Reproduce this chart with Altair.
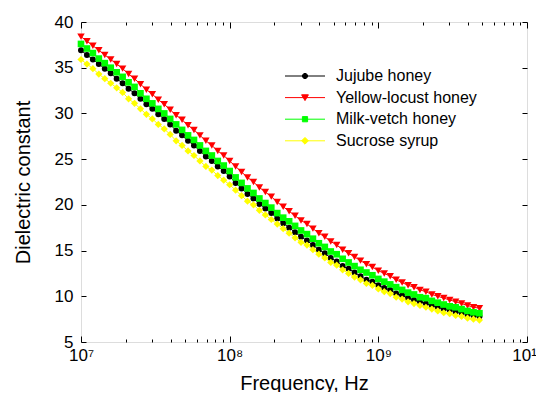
import altair as alt
import pandas as pd

# ---------------- data ----------------
log_freq = [7.00, 7.04, 7.08, 7.12, 7.16, 7.20, 7.24, 7.28, 7.32, 7.36,
            7.40, 7.44, 7.48, 7.52, 7.56, 7.60, 7.64, 7.68, 7.72, 7.76,
            7.80, 7.84, 7.88, 7.92, 7.96, 8.00, 8.04, 8.08, 8.12, 8.16,
            8.20, 8.24, 8.28, 8.32, 8.36, 8.40, 8.44, 8.48, 8.52, 8.56,
            8.60, 8.64, 8.68, 8.72, 8.76, 8.80, 8.84, 8.88, 8.92, 8.96,
            9.00, 9.04, 9.08, 9.12, 9.16, 9.20, 9.24, 9.28, 9.32, 9.36,
            9.40, 9.44, 9.48, 9.52, 9.56, 9.60, 9.64, 9.68]

jujube = [36.9, 36.4, 35.9, 35.4, 34.9, 34.4, 33.8, 33.3, 32.7, 32.2,
          31.6, 31.0, 30.5, 29.9, 29.4, 28.8, 28.1, 27.6, 27.0, 26.5,
          25.9, 25.3, 24.8, 24.2, 23.7, 23.1, 22.4, 21.8, 21.2, 20.7,
          20.1, 19.6, 19.1, 18.5, 18.0, 17.5, 17.0, 16.5, 16.1, 15.6,
          15.1, 14.7, 14.2, 13.8, 13.3, 13.0, 12.6, 12.2, 11.8, 11.6,
          11.2, 10.9, 10.7, 10.3, 10.1, 9.8, 9.6, 9.4, 9.2, 9.0,
          8.8, 8.6, 8.5, 8.3, 8.2, 8.0, 7.9, 7.8]

yellow_locust = [38.4, 37.9, 37.4, 36.9, 36.4, 35.9, 35.4, 34.9, 34.3, 33.8,
                 33.2, 32.6, 32.1, 31.5, 31.0, 30.4, 29.8, 29.3, 28.7, 28.2,
                 27.6, 27.0, 26.5, 25.9, 25.4, 24.8, 24.2, 23.6, 23.0, 22.5,
                 21.9, 21.4, 20.9, 20.3, 19.8, 19.3, 18.8, 18.3, 17.9, 17.4,
                 16.9, 16.5, 16.0, 15.6, 15.1, 14.7, 14.3, 13.9, 13.5, 13.2,
                 12.8, 12.5, 12.2, 11.8, 11.5, 11.2, 11.0, 10.7, 10.5, 10.2,
                 10.0, 9.8, 9.6, 9.4, 9.2, 9.0, 8.8, 8.7]

milk_vetch = [37.6, 37.1, 36.6, 36.0, 35.5, 35.0, 34.5, 34.0, 33.4, 32.9,
              32.2, 31.6, 31.1, 30.5, 30.0, 29.4, 28.8, 28.2, 27.6, 27.1,
              26.5, 25.9, 25.4, 24.8, 24.3, 23.7, 23.0, 22.4, 21.8, 21.3,
              20.7, 20.2, 19.7, 19.1, 18.6, 18.2, 17.7, 17.2, 16.8, 16.3,
              15.8, 15.4, 14.9, 14.6, 14.1, 13.7, 13.3, 12.9, 12.6, 12.3,
              11.9, 11.6, 11.3, 11.0, 10.7, 10.4, 10.2, 9.9, 9.8, 9.5,
              9.3, 9.1, 8.9, 8.8, 8.6, 8.4, 8.25, 8.15]

sucrose = [35.9, 35.4, 34.9, 34.3, 33.8, 33.3, 32.8, 32.3, 31.6, 31.1,
           30.5, 29.9, 29.4, 28.8, 28.3, 27.7, 27.0, 26.5, 25.9, 25.4,
           24.8, 24.2, 23.8, 23.2, 22.7, 22.2, 21.6, 21.0, 20.4, 20.0,
           19.4, 18.9, 18.4, 17.9, 17.4, 16.9, 16.4, 15.9, 15.6, 15.1,
           14.6, 14.2, 13.7, 13.4, 12.9, 12.5, 12.1, 11.8, 11.4, 11.2,
           10.8, 10.5, 10.3, 9.9, 9.7, 9.4, 9.2, 9.0, 8.8, 8.6,
           8.4, 8.2, 8.1, 7.9, 7.8, 7.6, 7.5, 7.4]

series_names = ["Jujube honey", "Yellow-locust honey", "Milk-vetch honey", "Sucrose syrup"]
series_values = [jujube, yellow_locust, milk_vetch, sucrose]
series_colors = ["#000000", "#ff0000", "#00ff00", "#ffff00"]
marker_shapes = ["circle", "triangle-down", "square", "diamond"]
marker_sizes = [36, 56, 44, 52]

x_major = [1e7, 1e8, 1e9, 1e10]
x_minor = [2e7, 3e7, 4e7, 5e7, 6e7, 7e7, 8e7, 9e7,
           2e8, 3e8, 4e8, 5e8, 6e8, 7e8, 8e8, 9e8,
           2e9, 3e9, 4e9, 5e9, 6e9, 7e9, 8e9, 9e9]
y_ticks = [5, 10, 15, 20, 25, 30, 35, 40]

# legend symbols: a short line with the marker in its middle
legend_paths = [
    "M-5,0H5M0.65,0A0.65,0.65,0,1,1,-0.65,0A0.65,0.65,0,1,1,0.65,0Z",
    "M-5,0H5M-0.85,-0.7L0.85,-0.7L0,0.75Z",
    "M-5,0H5M-0.65,-0.65H0.65V0.65H-0.65Z",
    "M-5,0H5M0,-0.85L0.85,0L0,0.85L-0.85,0Z",
]

rows = []
for name, vals in zip(series_names, series_values):
    for lf, v in zip(log_freq, vals):
        rows.append({"series": name, "freq": 10 ** lf, "eps": v})
df = pd.DataFrame(rows)

FONT = "Liberation Sans"
W, H = 446, 320

x_scale = alt.Scale(type="log", domain=[1e7, 1e10])
y_scale = alt.Scale(domain=[5, 40])

sup = ("'10' + (datum.value < 5e7 ? '\u2077' : datum.value < 5e8 ? '\u2078' : "
       "datum.value < 5e9 ? '\u2079' : '\u00b9\u2070')")

x_label_axis = alt.Axis(values=x_major, labelExpr=sup, ticks=False, domain=False, grid=False,
                        labelFontSize=17, labelFont=FONT, labelColor="black", labelPadding=5,
                        labelFlush=False, labelOverlap=False,
                        title="Frequency, Hz", titleFontSize=20, titleFont=FONT,
                        titleFontWeight="normal", titleColor="black", titlePadding=10)
y_label_axis = alt.Axis(values=y_ticks, ticks=False, domain=False, grid=False,
                        labelFontSize=17, labelFont=FONT, labelColor="black", labelPadding=8,
                        title="Dielectric constant", titleFontSize=20, titleFont=FONT,
                        titleFontWeight="normal", titleColor="black", titlePadding=21)


def tick_axis(orient, offset, values, size):
    return alt.Axis(orient=orient, offset=offset, values=values, labels=False, domain=False,
                    grid=False, ticks=True, tickSize=size, tickColor="black", tickWidth=1,
                    title=None)


axis_sets = [
    (x_label_axis, y_label_axis),
    (tick_axis("top", -H, x_major, 6), tick_axis("right", -W, y_ticks, 5)),
    (tick_axis("bottom", -H, x_major, 6), tick_axis("left", -W, y_ticks, 5)),
    (tick_axis("top", -H, x_minor, 3), None),
    (tick_axis("bottom", -H, x_minor, 3), None),
]

layers = []
k = 0
for name, color, shape, size in zip(series_names, series_colors, marker_shapes, marker_sizes):
    src = alt.Chart(df).transform_filter(alt.datum.series == name)
    for mk in ("line", "point"):
        xa, ya = axis_sets[k] if k < len(axis_sets) else (None, None)
        enc = dict(x=alt.X("freq:Q", scale=x_scale, axis=xa),
                   y=alt.Y("eps:Q", scale=y_scale, axis=ya))
        if mk == "line":
            layers.append(src.mark_line(color=color, strokeWidth=1).encode(**enc))
        else:
            layers.append(src.mark_point(shape=shape, size=size, filled=True, color=color,
                                         opacity=1, strokeWidth=0).encode(**enc))
        k += 1

leg = alt.Legend(title=None, orient="none", legendX=216, legendY=46, padding=0,
                 symbolSize=64, symbolStrokeWidth=1, labelFontSize=16, labelFont=FONT,
                 labelColor="black", labelOffset=23, rowPadding=5.6)

legend_layer = alt.Chart(df).transform_filter("false").mark_point(
    filled=True, opacity=1, strokeWidth=1).encode(
    x=alt.X("freq:Q", scale=x_scale, axis=None),
    y=alt.Y("eps:Q", scale=y_scale, axis=None),
    fill=alt.Fill("series:N", scale=alt.Scale(domain=series_names, range=series_colors), legend=leg),
    stroke=alt.Stroke("series:N", scale=alt.Scale(domain=series_names, range=series_colors), legend=leg),
    shape=alt.Shape("series:N", scale=alt.Scale(domain=series_names, range=legend_paths), legend=leg),
)
layers.append(legend_layer)

chart = alt.layer(*layers).resolve_axis(x="independent", y="independent").properties(
    width=W, height=H, autosize="none",
    padding={"left": 73, "top": 14, "right": 9, "bottom": 50},
).configure_view(stroke="black", strokeWidth=1).configure(background="white")

chart.save("out.html", embed_options={"renderer": "svg", "actions": False})
